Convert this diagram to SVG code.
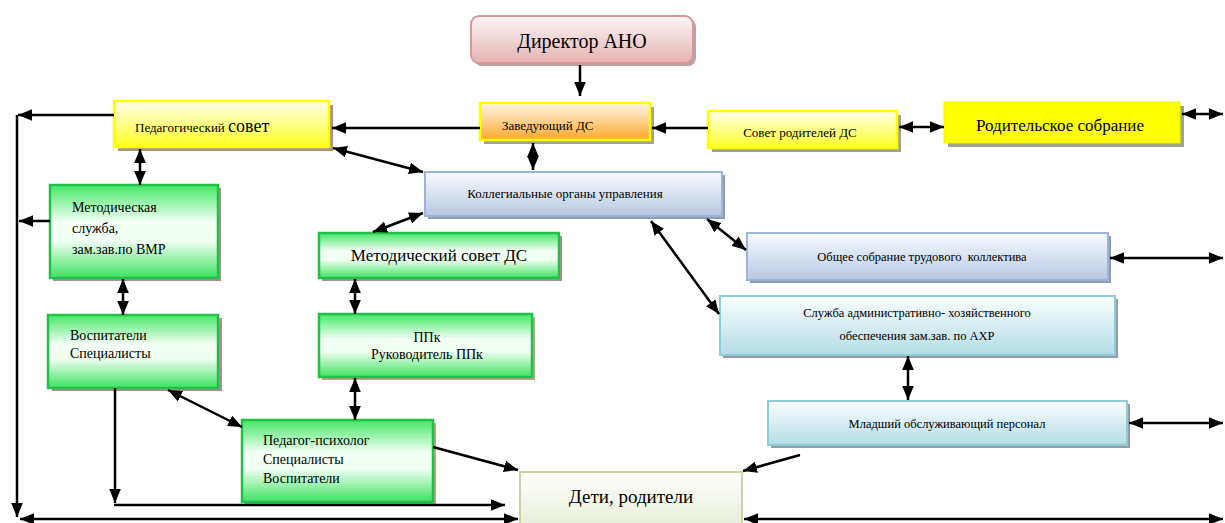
<svg xmlns="http://www.w3.org/2000/svg" width="1225" height="523" viewBox="0 0 1225 523" font-family="'Liberation Serif', serif">
<defs>
<linearGradient id="gPink" x1="0" y1="0" x2="0" y2="1"><stop offset="0" stop-color="#fdf6f6"/><stop offset="1" stop-color="#e6b3b3"/></linearGradient>
<linearGradient id="gOrange" x1="0" y1="0" x2="0" y2="1"><stop offset="0" stop-color="#fff6e8"/><stop offset="1" stop-color="#ffa82a"/></linearGradient>
<linearGradient id="gYellow" x1="0" y1="0" x2="0" y2="1"><stop offset="0" stop-color="#ffffee"/><stop offset="1" stop-color="#ffff22"/></linearGradient>
<linearGradient id="gBlue" x1="0" y1="0" x2="0" y2="1"><stop offset="0" stop-color="#f9fbfe"/><stop offset="1" stop-color="#b7c8e4"/></linearGradient>
<linearGradient id="gCyan" x1="0" y1="0" x2="0" y2="1"><stop offset="0" stop-color="#fbfefe"/><stop offset="1" stop-color="#b3dde6"/></linearGradient>
<linearGradient id="gGreen" x1="0" y1="0" x2="0" y2="1"><stop offset="0" stop-color="#45e866"/><stop offset="0.4" stop-color="#f4fff6"/><stop offset="0.6" stop-color="#f0fff2"/><stop offset="1" stop-color="#3ee25f"/></linearGradient>
<linearGradient id="gKids" x1="0" y1="0" x2="0" y2="1"><stop offset="0" stop-color="#ffffff"/><stop offset="1" stop-color="#e9efdb"/></linearGradient>
<marker id="ah" viewBox="0 0 12 10" refX="12" refY="5" markerWidth="14" markerHeight="12" markerUnits="userSpaceOnUse" orient="auto-start-reverse"><path d="M0,0 L12,5 L0,10 z" fill="#000"/></marker>
</defs>
<style>
.c{text-anchor:middle}
.ln{stroke:#000;stroke-width:2.5;fill:none}
.one{marker-end:url(#ah)}
.two{marker-start:url(#ah);marker-end:url(#ah)}
.sh{fill:#a89090}
.shg{fill:#9ea48c}
.shb{fill:#8e9cab}
.green{fill:url(#gGreen);stroke:#22c04a;stroke-width:2.5}
.yel{stroke:#ffff00;stroke-width:2.5}
.blue{fill:url(#gBlue);stroke:#9ab5d8;stroke-width:2}
.cyan{fill:url(#gCyan);stroke:#8fcbd8;stroke-width:2}
</style>
<rect width="1225" height="523" fill="#fff"/>

<g id="director">
<rect x="474" y="19" width="222" height="47" rx="8" fill="#bfa0a0"/>
<rect x="471" y="16" width="222" height="47" rx="8" fill="url(#gPink)" stroke="#d69898" stroke-width="2"/>
<text x="582" y="48" class="c" font-size="20" font-family="Liberation Serif">Директор АНО</text>
</g>

<g id="head">
<rect x="484" y="107" width="170" height="37" fill="#a0a48c"/>
<rect x="480" y="103" width="170" height="37" fill="url(#gOrange)" class="yel"/>
<text x="502" y="130" font-size="13" font-family="Liberation Serif">Заведующий ДС</text>
</g>

<g id="pedsovet">
<rect x="118" y="105" width="215" height="46" class="sh"/>
<rect x="114" y="101" width="215" height="46" fill="url(#gYellow)" class="yel"/>
<text x="135" y="132" font-family="Liberation Serif"><tspan font-size="13">Педагогический </tspan><tspan font-size="18">совет</tspan></text>
</g>

<g id="parentcouncil">
<rect x="712" y="115" width="189" height="37" class="shg"/>
<rect x="708" y="111" width="189" height="37" fill="url(#gYellow)" class="yel"/>
<text x="800" y="137" class="c" font-size="13" font-family="Liberation Serif">Совет родителей ДС</text>
</g>

<g id="parentmeeting">
<rect x="948" y="106" width="236" height="41" class="shg"/>
<rect x="944" y="102" width="236" height="41" fill="#ffff00" stroke="#f4f400" stroke-width="1"/>
<text x="1060" y="131" class="c" font-size="17" font-family="Liberation Serif">Родительское собрание</text>
</g>

<g id="collegial">
<rect x="428" y="175" width="297" height="44" class="shb"/>
<rect x="425" y="172" width="297" height="44" class="blue"/>
<text x="565" y="198" class="c" font-size="13" font-family="Liberation Serif">Коллегиальные органы управления</text>
</g>

<g id="methodservice">
<rect x="53" y="188" width="168" height="93" class="sh"/>
<rect x="50" y="185" width="168" height="93" class="green"/>
<text x="72" y="212" font-size="14" font-family="Liberation Serif">Методическая</text>
<text x="72" y="233" font-size="14" font-family="Liberation Serif">служба,</text>
<text x="72" y="254" font-size="14" font-family="Liberation Serif">зам.зав.по ВМР</text>
</g>

<g id="educators">
<rect x="52" y="318" width="170" height="73" class="sh"/>
<rect x="48" y="315" width="170" height="73" class="green"/>
<text x="70" y="340" font-size="14" font-family="Liberation Serif">Воспитатели</text>
<text x="70" y="358" font-size="14" font-family="Liberation Serif">Специалисты</text>
</g>

<g id="methodcouncil">
<rect x="322" y="236" width="240" height="45" class="sh"/>
<rect x="319" y="233" width="240" height="45" class="green"/>
<text x="439" y="261" class="c" font-size="17" font-family="Liberation Serif">Методический совет ДС</text>
</g>

<g id="ppk">
<rect x="322" y="317" width="213" height="63" fill="#c8a080"/>
<rect x="319" y="314" width="213" height="63" class="green"/>
<text x="427" y="342" class="c" font-size="14" font-family="Liberation Serif">ППк</text>
<text x="427" y="359" class="c" font-size="14" font-family="Liberation Serif">Руководитель ППк</text>
</g>

<g id="psychologist">
<rect x="245" y="423" width="191" height="82" fill="#c8a080"/>
<rect x="242" y="420" width="191" height="82" class="green"/>
<text x="263" y="445" font-size="14" font-family="Liberation Serif">Педагог-психолог</text>
<text x="263" y="464" font-size="14" font-family="Liberation Serif">Специалисты</text>
<text x="263" y="483" font-size="14" font-family="Liberation Serif">Воспитатели</text>
</g>

<g id="generalmeeting">
<rect x="750" y="236" width="361" height="47" class="shb"/>
<rect x="747" y="233" width="361" height="47" class="blue"/>
<text x="922" y="261" class="c" font-size="12.5" font-family="Liberation Serif" xml:space="preserve">Общее собрание трудового  коллектива</text>
</g>

<g id="ahr">
<rect x="723" y="299" width="395" height="59" fill="#909ea8"/>
<rect x="720" y="296" width="395" height="59" class="cyan"/>
<text x="917" y="317" class="c" font-size="12.5" font-family="Liberation Serif">Служба административно- хозяйственного</text>
<text x="917" y="340" class="c" font-size="12.5" font-family="Liberation Serif">обеспечения зам.зав. по АХР</text>
</g>

<g id="junior">
<rect x="771" y="404" width="359" height="44" fill="#909ea8"/>
<rect x="768" y="401" width="359" height="44" class="cyan"/>
<text x="947" y="428" class="c" font-size="12.5" font-family="Liberation Serif">Младший обслуживающий персонал</text>
</g>

<g id="kids">
<rect x="520" y="472" width="222" height="52" fill="url(#gKids)" stroke="#c6d6a0" stroke-width="2"/>
<text x="631" y="503" class="c" font-size="19" font-family="Liberation Serif">Дети, родители</text>
</g>

<g id="connectors">
<line x1="580" y1="65" x2="580" y2="96" class="ln one"/>
<line x1="480" y1="128" x2="332" y2="128" class="ln one"/>
<line x1="708" y1="128" x2="652" y2="128" class="ln one"/>
<line x1="899" y1="127" x2="944" y2="127" class="ln two"/>
<line x1="1182" y1="114" x2="1223" y2="114" class="ln two"/>
<line x1="533" y1="143" x2="533" y2="170" class="ln two"/>
<line x1="333" y1="148" x2="423" y2="172" class="ln two"/>
<line x1="114" y1="115" x2="18" y2="115" class="ln one"/>
<line x1="17" y1="115" x2="17" y2="517" class="ln one"/>
<line x1="50" y1="221" x2="19" y2="221" class="ln one"/>
<line x1="140" y1="149" x2="140" y2="185" class="ln two"/>
<line x1="123" y1="279" x2="123" y2="315" class="ln two"/>
<line x1="423" y1="213" x2="373" y2="232" class="ln two"/>
<line x1="355" y1="279" x2="355" y2="314" class="ln two"/>
<line x1="355" y1="378" x2="355" y2="420" class="ln two"/>
<line x1="168" y1="390" x2="242" y2="427" class="ln two"/>
<line x1="115" y1="388" x2="115" y2="503" class="ln one"/>
<line x1="114" y1="505" x2="505" y2="505" class="ln one"/>
<line x1="20" y1="519" x2="518" y2="519" class="ln two"/>
<line x1="744" y1="519" x2="1223" y2="519" class="ln two"/>
<line x1="433" y1="447" x2="518" y2="470" class="ln one"/>
<line x1="800" y1="455" x2="743" y2="471" class="ln one"/>
<line x1="651" y1="221" x2="719" y2="314" class="ln two"/>
<line x1="707" y1="219" x2="746" y2="250" class="ln two"/>
<line x1="1110" y1="258" x2="1223" y2="258" class="ln two"/>
<line x1="908" y1="356" x2="908" y2="400" class="ln two"/>
<line x1="1129" y1="423" x2="1223" y2="423" class="ln two"/>
</g>
</svg>
